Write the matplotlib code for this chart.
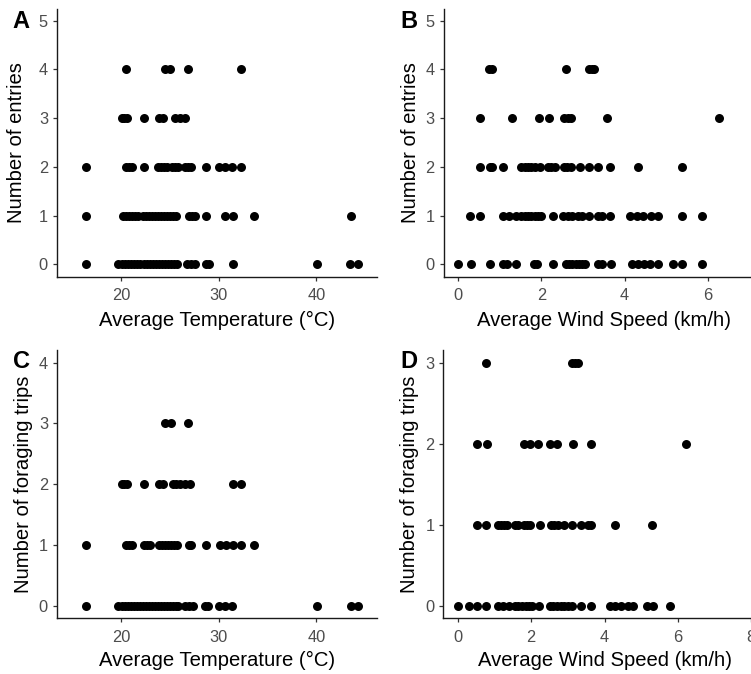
import matplotlib
matplotlib.use("Agg")
import matplotlib.pyplot as plt
import numpy as np

plt.rcParams['font.family'] = ['Liberation Sans', 'DejaVu Sans']

# ---------------- data ----------------
# Panel A: number of entries vs average temperature, grouped by count level
a_temp_0 = [16.4, 19.7, 20.1, 20.4, 20.7, 21.0, 21.3, 21.6, 21.9, 22.4, 22.7, 23.0, 23.3,
            23.6, 23.9, 24.2, 24.5, 24.8, 25.1, 25.4, 25.7, 26.8, 27.2, 27.6, 28.7, 29.0,
            31.5, 40.1, 43.4, 44.3]
a_temp_1 = [16.4, 20.2, 20.5, 20.8, 21.1, 21.4, 21.7, 22.3, 22.6, 22.9, 23.2, 23.5, 23.8,
            24.1, 24.4, 24.7, 25.0, 25.3, 25.6, 27.0, 27.3, 27.6, 28.7, 30.6, 31.5, 33.6, 43.5]
a_temp_2 = [16.4, 20.5, 20.8, 21.1, 22.4, 23.8, 24.1, 24.4, 24.7, 25.2, 25.5, 25.8, 26.6,
            26.9, 27.2, 28.7, 30.0, 30.6, 31.4, 32.3]
a_temp_3 = [20.1, 20.3, 20.6, 22.4, 23.9, 24.3, 25.5, 26.0, 26.5]
a_temp_4 = [20.5, 24.5, 25.0, 26.9, 32.3]

# Panel B: number of entries vs average wind speed
b_wind_0 = [0.0, 0.30, 0.77, 1.07, 1.18, 1.39, 1.82, 1.90, 2.28, 2.58, 2.66, 2.74, 2.82,
            2.90, 2.98, 3.05, 3.36, 3.45, 3.66, 4.17, 4.31, 4.46, 4.62, 4.81, 5.17, 5.38, 5.86]
b_wind_1 = [0.28, 0.52, 1.07, 1.23, 1.39, 1.52, 1.60, 1.68, 1.76, 1.84, 1.92, 2.0, 2.27,
            2.52, 2.64, 2.73, 2.89, 2.97, 3.15, 3.35, 3.45, 3.65, 4.13, 4.29, 4.45, 4.63,
            4.81, 5.38, 5.85]
b_wind_2 = [0.52, 0.76, 0.82, 1.08, 1.52, 1.60, 1.68, 1.76, 1.84, 1.96, 2.16, 2.24, 2.32,
            2.54, 2.62, 2.70, 2.92, 3.15, 3.35, 3.65, 4.31, 5.38]
b_wind_3 = [0.52, 1.28, 1.94, 2.19, 2.55, 2.63, 2.71, 3.58, 6.27]
b_wind_4 = [0.75, 0.82, 2.58, 3.15, 3.21, 3.27]

# Panel C: number of foraging trips vs average temperature
c_temp_0 = [16.4, 19.7, 20.1, 20.4, 20.7, 21.0, 21.3, 21.6, 21.9, 22.3, 22.6, 22.9, 23.2,
            23.5, 23.8, 24.1, 24.4, 24.7, 25.0, 25.3, 25.6, 25.8, 26.6, 27.0, 27.4, 28.6,
            28.9, 30.0, 30.6, 31.4, 40.1, 43.5, 44.3]
c_temp_1 = [16.4, 20.5, 20.8, 21.1, 22.4, 22.7, 23.0, 23.9, 24.2, 24.5, 24.8, 25.1, 25.4,
            25.7, 27.0, 27.2, 28.7, 30.1, 30.7, 31.5, 32.3, 33.6]
c_temp_2 = [20.1, 20.3, 20.6, 22.4, 23.9, 24.3, 25.3, 25.6, 26.0, 26.6, 27.1, 31.5, 32.3]
c_temp_3 = [24.5, 25.1, 26.9]

# Panel D: number of foraging trips vs average wind speed
d_wind_0 = [0.0, 0.30, 0.53, 0.77, 1.08, 1.23, 1.39, 1.55, 1.65, 1.75, 1.85, 1.95, 2.02,
            2.21, 2.51, 2.60, 2.70, 2.80, 2.90, 3.00, 3.10, 3.37, 3.63, 4.14, 4.30, 4.46,
            4.63, 4.78, 5.15, 5.33, 5.80]
d_wind_1 = [0.53, 0.77, 1.08, 1.17, 1.26, 1.35, 1.55, 1.64, 1.80, 1.88, 1.96, 2.25, 2.55,
            2.63, 2.72, 2.90, 3.12, 3.35, 3.55, 3.64, 4.30, 5.31]
d_wind_2 = [0.53, 0.79, 1.80, 1.98, 2.19, 2.51, 2.69, 3.13, 3.63, 6.22]
d_wind_3 = [0.76, 3.12, 3.20, 3.28]

temp_ticks = [20, 30, 40]
wind_ticks_b = [0, 2, 4, 6]
wind_ticks_d = [0, 2, 4, 6, 8]
entries_ticks = [0, 1, 2, 3, 4, 5]
trips_ticks_c = [0, 1, 2, 3, 4]
trips_ticks_d = [0, 1, 2, 3]

xlab_temp = "Average Temperature (°C)"
xlab_wind = "Average Wind Speed (km/h)"
ylab_entries = "Number of entries"
ylab_trips = "Number of foraging trips"


def stack(groups):
    xs, ys = [], []
    for level, vals in enumerate(groups):
        xs.extend(vals)
        ys.extend([level] * len(vals))
    return np.array(xs), np.array(ys)


# ---------------- layout ----------------
W, H = 751, 674
fig = plt.figure(figsize=(W / 100, H / 100), dpi=100)


def rect(l, r, t, b):
    return [l / W, 1 - b / H, (r - l) / W, (b - t) / H]


panels = [
    dict(px=(57, 377, 8.5, 276.5), groups=[a_temp_0, a_temp_1, a_temp_2, a_temp_3, a_temp_4],
         xlim=(13.45, 46.2), ylim=(-0.25, 5.25), xticks=temp_ticks, yticks=entries_ticks,
         xlabel=xlab_temp, ylabel=ylab_entries, tag="A", tagpos=(21, 21),
         xbase=325.5, ybase=22.5),
    dict(px=(443.7, 764, 8.5, 276.5), groups=[b_wind_0, b_wind_1, b_wind_2, b_wind_3, b_wind_4],
         xlim=(-0.35, 7.35), ylim=(-0.25, 5.25), xticks=wind_ticks_b, yticks=entries_ticks,
         xlabel=xlab_wind, ylabel=ylab_entries, tag="B", tagpos=(409, 21),
         xbase=325.5, ybase=416),
    dict(px=(57, 377, 350.5, 617.8), groups=[c_temp_0, c_temp_1, c_temp_2, c_temp_3],
         xlim=(13.45, 46.2), ylim=(-0.2, 4.2), xticks=temp_ticks, yticks=trips_ticks_c,
         xlabel=xlab_temp, ylabel=ylab_trips, tag="C", tagpos=(21, 362),
         xbase=666, ybase=29.5),
    dict(px=(443.3, 765.7, 350.5, 617.8), groups=[d_wind_0, d_wind_1, d_wind_2, d_wind_3],
         xlim=(-0.4, 8.4), ylim=(-0.15, 3.15), xticks=wind_ticks_d, yticks=trips_ticks_d,
         xlabel=xlab_wind, ylabel=ylab_trips, tag="D", tagpos=(409, 362),
         xbase=666, ybase=415),
]

for p in panels:
    l, r, t, b = p["px"]
    ax = fig.add_axes(rect(l, r, t, b))
    x, y = stack(p["groups"])
    ax.scatter(x, y, s=42, color="black", linewidths=0, zorder=3, clip_on=False)
    ax.set_xlim(*p["xlim"])
    ax.set_ylim(*p["ylim"])
    ax.set_xticks(p["xticks"])
    ax.set_yticks(p["yticks"])
    for side in ("top", "right"):
        ax.spines[side].set_visible(False)
    for side in ("left", "bottom"):
        ax.spines[side].set_color("#1a1a1a")
        ax.spines[side].set_linewidth(1.0)
    ax.tick_params(axis="both", length=3, width=0.9, color="#333333",
                   labelcolor="#4d4d4d", labelsize=11.8)
    ax.tick_params(axis="x", pad=5.5)
    ax.tick_params(axis="y", pad=3.5)
    ax.set_xlabel(p["xlabel"], fontsize=14.6, color="black")
    ax.xaxis.label.set_va("baseline")
    ax.xaxis.set_label_coords(0.5, -(p["xbase"] - b) / (b - t))
    ax.set_ylabel(p["ylabel"], fontsize=14.6, color="black")
    ax.yaxis.label.set_va("baseline")
    ax.yaxis.set_label_coords(-(l - p["ybase"]) / (r - l), 0.5)
    fig.text(p["tagpos"][0] / W, 1 - p["tagpos"][1] / H, p["tag"], fontsize=17,
             fontweight="bold", ha="center", va="center", color="black")

fig.savefig("out.png", dpi=100)
